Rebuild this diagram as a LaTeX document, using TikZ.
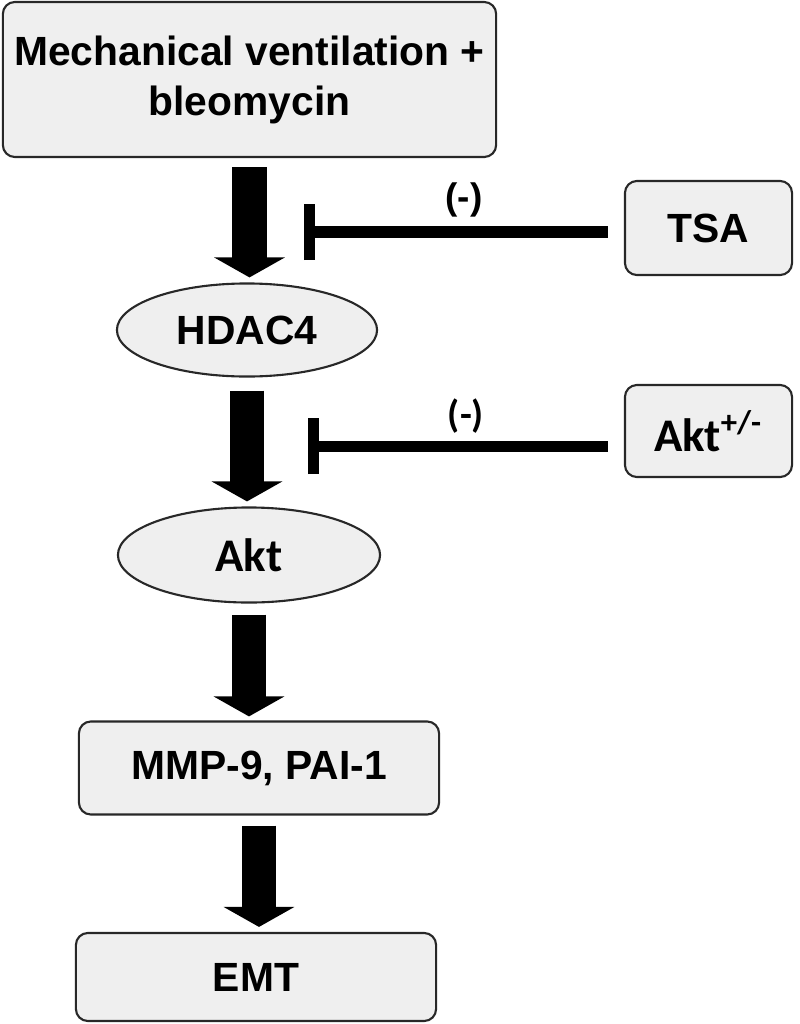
\documentclass[tikz,border=0pt]{standalone}
\usepackage{fontspec}
\setmainfont{Liberation Sans}
\newfontfamily\calibfont{Carlito}
\usetikzlibrary{shapes.geometric,arrows.meta}
\definecolor{boxfill}{RGB}{239,239,239}
\definecolor{boxline}{RGB}{40,40,40}
\tikzset{
  box/.style={draw=boxline, fill=boxfill, line width=0.6pt, rounded corners=0.12cm, inner sep=0pt, align=center, font=\fontsize{11.6}{14.2}\selectfont\bfseries},
  oval/.style={ellipse, draw=boxline, fill=boxfill, line width=0.6pt, inner sep=0pt, font=\fontsize{11.6}{14.2}\selectfont\bfseries},
  pathway/.style={line width=0.34cm, -{Triangle[width=0.7cm,length=0.2cm]}},
  inhibit/.style={line width=0.11cm, -{Bar[width=0.56cm]}},
  minus/.style={font=\fontsize{10.5}{12}\selectfont\bfseries}
}
\begin{document}
\begin{tikzpicture}[x=0.01cm, y=-0.01cm]
\useasboundingbox (0,0) rectangle (800,1024);
\node[box, minimum width=4.93cm, minimum height=1.55cm] (mv) at (249.5,79.5) {Mechanical ventilation +\\bleomycin};
\node[oval, minimum width=2.6cm, minimum height=0.93cm] (hdac) at (247,330) {HDAC4};
\node[oval, minimum width=2.62cm, minimum height=0.95cm, font=\calibfont\fontsize{13.3}{15}\selectfont\bfseries] (akt) at (249,555) {Akt};
\node[box, minimum width=3.6cm, minimum height=0.93cm] (mmp) at (259,768) {MMP-9, PAI-1};
\node[box, minimum width=3.6cm, minimum height=0.88cm] (emt) at (256,977) {EMT};
\node[box, minimum width=1.67cm, minimum height=0.94cm] (tsa) at (708.5,228) {TSA};
\node[box, minimum width=1.67cm, minimum height=0.92cm, font=\calibfont\fontsize{13.3}{15}\selectfont\bfseries] (aktm) at (708.5,431) {Akt\textsuperscript{+/-}};
\coordinate (tsabar) at (304,232);
\coordinate (aktbar) at (308,446);
\draw[pathway, shorten <=0.09cm, shorten >=0.05cm] (mv.south) -- (mv.south |- hdac.north);
\draw[pathway, shorten <=0.13cm, shorten >=0.05cm] (hdac.south) -- (hdac.south |- akt.north);
\draw[pathway, shorten <=0.11cm, shorten >=0.04cm] (akt.south) -- (akt.south |- mmp.north);
\draw[pathway, shorten <=0.1cm, shorten >=0.05cm] (mmp.south) -- (mmp.south |- emt.north);
\draw[inhibit, shorten <=0.16cm] (tsabar -| tsa.west) -- (tsabar) node[minus, midway, yshift=0.32cm] (tsaminus) {(-)};
\draw[inhibit, shorten <=0.16cm] (aktbar -| aktm.west) -- (aktbar) node[minus, midway, yshift=0.3cm, font=\calibfont\fontsize{11}{12}\selectfont\bfseries] (aktminus) {(-)};
\end{tikzpicture}
\end{document}
